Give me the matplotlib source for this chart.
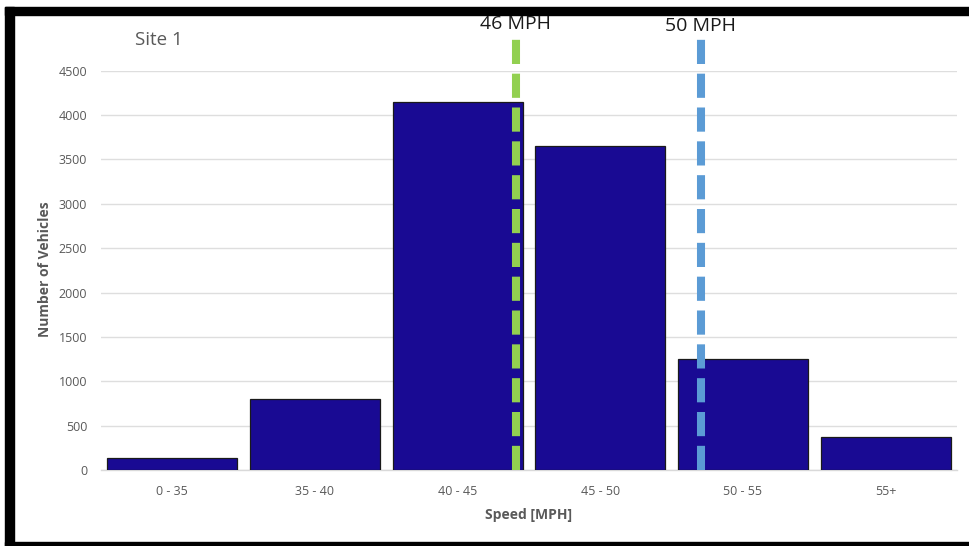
import numpy as np
import matplotlib

matplotlib.use('Agg')
import matplotlib.pyplot as plt
from matplotlib.patches import Rectangle

# data
speed_bins = ['0 - 35', '35 - 40', '40 - 45', '45 - 50', '50 - 55', '55+']
vehicle_counts = [130, 800, 4150, 3650, 1250, 370]
yticks = [0, 500, 1000, 1500, 2000, 2500, 3000, 3500, 4000, 4500]

# speed markers, position in category units
marker_labels = ['46 MPH', '50 MPH']
marker_pos = [2.41, 3.705]
marker_colors = ['#92D050', '#5B9BD5']

W, H = 969, 546
plt.rcParams['font.family'] = ['Open Sans', 'DejaVu Sans']


def fx(x):
    return x / W


def fy(y):
    return 1 - y / H


fig = plt.figure(figsize=(W / 100, H / 100), dpi=100)
ax = fig.add_axes([fx(101), fy(470), fx(957) - fx(101), fy(70.7) - fy(470)])

x = np.arange(len(speed_bins))
ax.bar(x, vehicle_counts, width=0.91, color='#190A93', edgecolor='#1a1a1a',
       linewidth=0.9, zorder=3)

ax.set_xlim(-0.5, len(speed_bins) - 0.5)
ax.set_ylim(0, 4500)
ax.set_yticks(yticks)
ax.set_xticks(x)
ax.set_xticklabels(speed_bins)
ax.tick_params(axis='both', length=0, labelsize=9, labelcolor='#595959')
ax.tick_params(axis='y', pad=10)
ax.tick_params(axis='x', pad=11)
ax.grid(axis='y', color='#dedede', linewidth=1.0, zorder=0)
for side in ['top', 'right', 'left']:
    ax.spines[side].set_visible(False)
ax.spines['bottom'].set_color('#d9d9d9')
ax.spines['bottom'].set_linewidth(1.0)

for lab, pos, col in zip(marker_labels, marker_pos, marker_colors):
    ax.plot([pos, pos], [0, 4880], color=col, linewidth=5.8,
            dashes=(3.0, 1.2), solid_capstyle='butt', dash_capstyle='butt',
            clip_on=False, zorder=4)

fig.text(fx(515), fy(24), marker_labels[0], ha='center', va='center',
         fontsize=14, color='#1a1a1a')
fig.text(fx(700), fy(26), marker_labels[1], ha='center', va='center',
         fontsize=14, color='#1a1a1a')
fig.text(fx(135), fy(40), 'Site 1', ha='left', va='center',
         fontsize=13.5, color='#595959')
fig.text(fx(45), fy(269), 'Number of Vehicles', ha='center', va='center',
         rotation=90, fontsize=10, fontweight='bold', color='#595959')
fig.text(fx(529), fy(515), 'Speed [MPH]', ha='center', va='center',
         fontsize=10, fontweight='bold', color='#595959')

# black frame round the picture (no right side in the reference)
fig.patches.append(Rectangle((fx(5), fy(15)), fx(W) - fx(5), fy(7) - fy(15),
                             transform=fig.transFigure, color='black'))
fig.patches.append(Rectangle((fx(5), fy(H)), fx(14) - fx(5), fy(7) - fy(H),
                             transform=fig.transFigure, color='black'))
fig.patches.append(Rectangle((fx(5), fy(H)), 1 - fx(5), fy(542) - fy(H),
                             transform=fig.transFigure, color='black'))

fig.savefig('out.png', dpi=100)
